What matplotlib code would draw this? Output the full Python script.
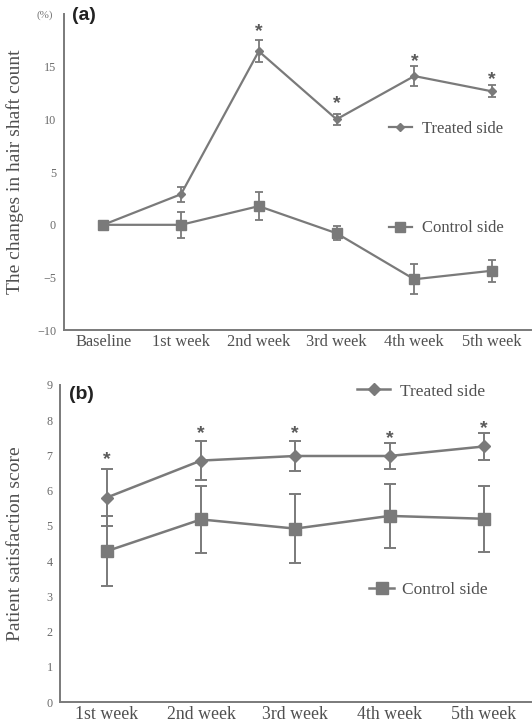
import numpy as np
import matplotlib
matplotlib.use("Agg")
import matplotlib.pyplot as plt
from matplotlib.lines import Line2D

# panel (a): change in hair shaft count (%)
weeks_a = ["Baseline", "1st week", "2nd week", "3rd week", "4th week", "5th week"]
treated_a = [0, 2.9, 16.45, 10.0, 14.1, 12.65]
treated_a_err = [0, 0.7, 1.05, 0.55, 0.95, 0.57]
control_a = [0, 0.0, 1.77, -0.8, -5.16, -4.35]
control_a_err = [0, 1.25, 1.33, 0.67, 1.42, 1.05]
stars_a_idx = [2, 3, 4, 5]
stars_a_y = [19.0, 12.1, 16.1, 14.45]

# panel (b): patient satisfaction score
weeks_b = ["1st week", "2nd week", "3rd week", "4th week", "5th week"]
treated_b = [5.8, 6.85, 6.98, 6.98, 7.25]
treated_b_err = [0.82, 0.55, 0.43, 0.38, 0.38]
control_b = [4.28, 5.18, 4.92, 5.28, 5.2]
control_b_err = [1.0, 0.95, 0.97, 0.9, 0.93]
stars_b_y = [7.06, 7.8, 7.8, 7.66, 7.94]

LC = "#7a7a7a"
TXT = "#505050"
SERIF = "Liberation Serif"

plt.rcParams["font.family"] = SERIF

fig = plt.figure(figsize=(5.32, 7.26), dpi=100)
ax1 = fig.add_axes([0.121, 0.545, 0.877, 0.436])
ax2 = fig.add_axes([0.112, 0.033, 0.886, 0.437])


def style(ax, ypad, xfs):
    for s in ["top", "right"]:
        ax.spines[s].set_visible(False)
    for s in ["left", "bottom"]:
        ax.spines[s].set_color(LC)
        ax.spines[s].set_linewidth(1.4)
    ax.tick_params(axis="y", length=0, pad=ypad, labelsize=8.7, labelcolor="#6a6a6a")
    ax.tick_params(axis="x", length=0, pad=3, labelsize=xfs, labelcolor=TXT)


def star(ax, x, y):
    # bold asterisk, glyph centre ~0.58 em above baseline
    ax.annotate("*", xy=(x, y), xytext=(0, -0.58 * 14), textcoords="offset points",
                ha="center", va="baseline", fontsize=14, fontweight="bold",
                family="Liberation Sans", color="#5a5a5a")


# ---- (a)
xa = np.arange(len(weeks_a))
ax1.errorbar(xa, treated_a, yerr=treated_a_err, color=LC, lw=1.6, marker="D",
             ms=4, capsize=3, elinewidth=1.3, capthick=1.3)
ax1.errorbar(xa, control_a, yerr=control_a_err, color=LC, lw=1.6, marker="s",
             ms=7, capsize=3, elinewidth=1.3, capthick=1.3)
ax1.set_xlim(-0.5, 5.5)
ax1.set_ylim(-10, 20)
ax1.set_yticks([-10, -5, 0, 5, 10, 15])
ax1.set_yticklabels(["\u221210", "\u22125", "0", "5", "10", "15"])
ax1.set_xticks(xa)
ax1.set_xticklabels(weeks_a)
style(ax1, 6, 11.8)
for i, y in zip(stars_a_idx, stars_a_y):
    star(ax1, xa[i], y)
ax1.set_ylabel("The changes in hair shaft count", fontsize=14, color=TXT)
ax1.yaxis.set_label_coords(-0.087, 0.5)
ax1.text(-0.042, 0.996, "(%)", transform=ax1.transAxes, ha="center", va="center",
         fontsize=8, color="#777777")
ax1.text(0.017, 0.996, "(a)", transform=ax1.transAxes, ha="left", va="center",
         fontsize=14, fontweight="bold", family="Liberation Sans", color="#222222")

h_t = Line2D([], [], color=LC, lw=1.6, marker="D", ms=4)
h_c = Line2D([], [], color=LC, lw=1.6, marker="s", ms=7)
leg = ax1.legend([h_t], ["Treated side"], loc="center left", bbox_to_anchor=(0.695, 0.635),
                 frameon=False, fontsize=12, handlelength=1.4, handletextpad=0.6,
                 borderpad=0, borderaxespad=0, labelcolor=TXT)
ax1.add_artist(leg)
ax1.legend([h_c], ["Control side"], loc="center left", bbox_to_anchor=(0.695, 0.322),
           frameon=False, fontsize=12, handlelength=1.4, handletextpad=0.6,
           borderpad=0, borderaxespad=0, labelcolor=TXT)

# ---- (b)
xb = np.arange(len(weeks_b))
ax2.errorbar(xb, treated_b, yerr=treated_b_err, color=LC, lw=1.8, marker="D",
             ms=6, capsize=4, elinewidth=1.4, capthick=1.4)
ax2.errorbar(xb, control_b, yerr=control_b_err, color=LC, lw=1.8, marker="s",
             ms=9, capsize=4, elinewidth=1.4, capthick=1.4)
ax2.set_xlim(-0.5, 4.5)
ax2.set_ylim(0, 9)
ax2.set_yticks(range(10))
ax2.set_xticks(xb)
ax2.set_xticklabels(weeks_b)
style(ax2, 5, 12.8)
for x, y in zip(xb, stars_b_y):
    star(ax2, x, y)
ax2.set_ylabel("Patient satisfaction score", fontsize=14, color=TXT)
ax2.yaxis.set_label_coords(-0.075, 0.5)
ax2.text(0.02, 0.968, "(b)", transform=ax2.transAxes, ha="left", va="center",
         fontsize=14, fontweight="bold", family="Liberation Sans", color="#222222")

h_t2 = Line2D([], [], color=LC, lw=1.8, marker="D", ms=6)
h_c2 = Line2D([], [], color=LC, lw=1.8, marker="s", ms=8)
leg2 = ax2.legend([h_t2], ["Treated side"], loc="center left", bbox_to_anchor=(0.632, 0.979),
                  frameon=False, fontsize=12.5, handlelength=1.9, handletextpad=0.56,
                  borderpad=0, borderaxespad=0, labelcolor=TXT)
ax2.add_artist(leg2)
ax2.legend([h_c2], ["Control side"], loc="center left", bbox_to_anchor=(0.657, 0.353),
           frameon=False, fontsize=12.5, handlelength=1.45, handletextpad=0.42,
           borderpad=0, borderaxespad=0, labelcolor=TXT)

fig.savefig("out.png", dpi=100)
